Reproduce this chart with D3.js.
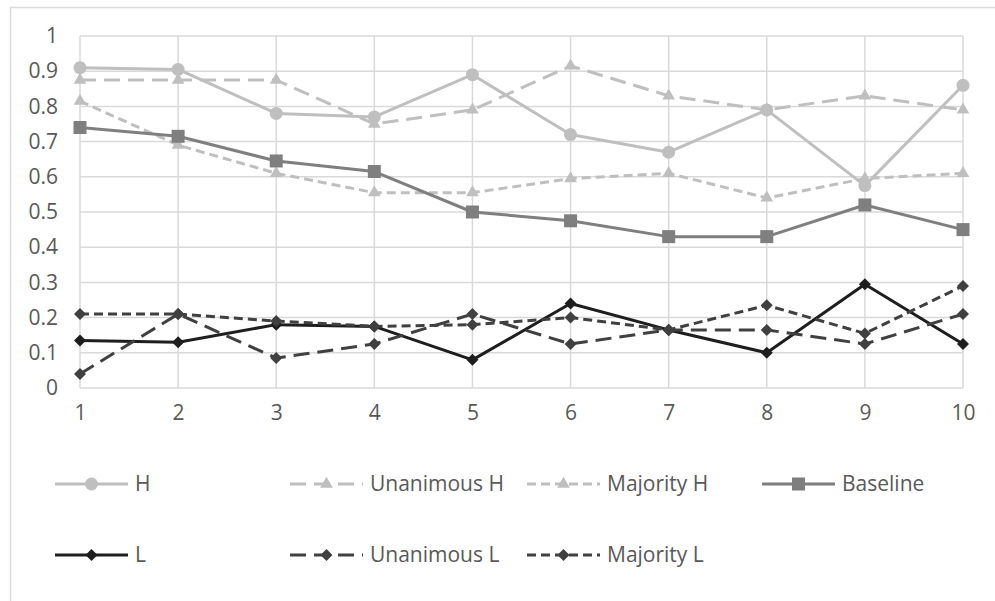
<!DOCTYPE html>
<html>
<head>
<meta charset="utf-8">
<script src="https://cdnjs.cloudflare.com/ajax/libs/d3/7.8.5/d3.min.js"></script>
<style>
  body { margin: 0; background: #fff; }
  svg text { font-family: "Open Sans", sans-serif; font-size: 21px; fill: #595959; }
</style>
</head>
<body>
<div id="chart"></div>
<script>
// values
var categories = [1, 2, 3, 4, 5, 6, 7, 8, 9, 10];
var yTicks = [0, 0.1, 0.2, 0.3, 0.4, 0.5, 0.6, 0.7, 0.8, 0.9, 1];

var hVals        = [0.91, 0.905, 0.78, 0.77, 0.89, 0.72, 0.67, 0.79, 0.575, 0.86];
var unanimousH   = [0.875, 0.875, 0.875, 0.75, 0.79, 0.915, 0.83, 0.79, 0.83, 0.79];
var majorityH    = [0.815, 0.69, 0.61, 0.555, 0.555, 0.595, 0.61, 0.54, 0.595, 0.61];
var baselineVals = [0.74, 0.715, 0.645, 0.615, 0.50, 0.475, 0.43, 0.43, 0.52, 0.45];
var lVals        = [0.135, 0.13, 0.18, 0.175, 0.08, 0.24, 0.165, 0.1, 0.295, 0.125];
var unanimousL   = [0.04, 0.21, 0.085, 0.125, 0.21, 0.125, 0.165, 0.165, 0.125, 0.21];
var majorityL    = [0.21, 0.21, 0.19, 0.175, 0.18, 0.2, 0.165, 0.235, 0.155, 0.29];

var seriesNames = ["H", "Unanimous H", "Majority H", "Baseline", "L", "Unanimous L", "Majority L"];

var width = 995, height = 601;
var plotLeft = 80, plotRight = 963, plotTop = 36, plotBottom = 388;

var svg = d3.select("#chart").append("svg")
    .attr("width", width)
    .attr("height", height);

// outer frame (runs off the right and bottom edge)
svg.append("path")
    .attr("d", "M10.5," + height + "V7.5H" + width)
    .style("fill", "none")
    .style("stroke", "#d9d9d9")
    .style("stroke-width", 1.5);

var x = d3.scalePoint().domain(categories).range([plotLeft, plotRight]);
var y = d3.scaleLinear().domain([0, 1]).range([plotBottom, plotTop]);

// gridlines
var grid = svg.append("g");
grid.selectAll("line.h").data(yTicks).enter().append("line")
    .attr("x1", plotLeft).attr("x2", plotRight)
    .attr("y1", function (d) { return y(d); })
    .attr("y2", function (d) { return y(d); })
    .style("stroke", "#d9d9d9").style("stroke-width", 1.5);
grid.selectAll("line.v").data(categories).enter().append("line")
    .attr("y1", plotTop).attr("y2", plotBottom)
    .attr("x1", function (d) { return x(d); })
    .attr("x2", function (d) { return x(d); })
    .style("stroke", "#d9d9d9").style("stroke-width", 1.5);

// axes labels
var yAxis = d3.axisLeft(y).tickValues(yTicks).tickSize(0).tickPadding(22)
    .tickFormat(function (d) { return String(+d.toFixed(1)); });
svg.append("g").attr("transform", "translate(" + plotLeft + ",0)").call(yAxis)
    .call(function (g) { g.select(".domain").remove(); g.selectAll("text").attr("font-size", null).attr("font-family", null); });
svg.selectAll("g").attr("font-size", null).attr("font-family", null);

var xAxis = d3.axisBottom(x).tickSize(0).tickPadding(17);
svg.append("g").attr("transform", "translate(0," + plotBottom + ")").call(xAxis)
    .call(function (g) { g.select(".domain").remove(); })
    .attr("font-size", null).attr("font-family", null);

var circle = d3.symbol().type(d3.symbolCircle).size(133);
var triangle = d3.symbol().type(d3.symbolTriangle).size(70);
var square = d3.symbol().type(d3.symbolSquare).size(169);
var diamond = d3.symbol().type(d3.symbolSquare).size(72);

var series = [
    { name: seriesNames[0], values: hVals, color: "#bfbfbf", dash: null, marker: circle, rot: 0 },
    { name: seriesNames[1], values: unanimousH, color: "#bfbfbf", dash: "16,8", marker: triangle, rot: 0 },
    { name: seriesNames[2], values: majorityH, color: "#bfbfbf", dash: "9,5", marker: triangle, rot: 0 },
    { name: seriesNames[3], values: baselineVals, color: "#7f7f7f", dash: null, marker: square, rot: 0 },
    { name: seriesNames[4], values: lVals, color: "#1e1e1e", dash: null, marker: diamond, rot: 45 },
    { name: seriesNames[5], values: unanimousL, color: "#404040", dash: "16,8", marker: diamond, rot: 45 },
    { name: seriesNames[6], values: majorityL, color: "#404040", dash: "9,5", marker: diamond, rot: 45 }
];

var line = d3.line()
    .x(function (d, i) { return x(categories[i]); })
    .y(function (d) { return y(d); });

series.forEach(function (s) {
    var g = svg.append("g");
    g.append("path")
        .attr("d", line(s.values))
        .style("fill", "none")
        .style("stroke", s.color)
        .style("stroke-width", 3)
        .style("stroke-linejoin", "round")
        .style("stroke-dasharray", s.dash);
    g.selectAll("path.m").data(s.values).enter().append("path")
        .attr("d", s.marker)
        .attr("transform", function (d, i) {
            return "translate(" + x(categories[i]) + "," + y(d) + ") rotate(" + s.rot + ")";
        })
        .style("fill", s.color);
});

// legend
var legendX = [55, 290, 527, 762];
var legendY = [484, 555];
var legend = svg.append("g");
series.forEach(function (s, i) {
    var lx = legendX[i % 4], ly = legendY[Math.floor(i / 4)];
    var g = legend.append("g").attr("transform", "translate(" + lx + "," + ly + ")");
    g.append("line")
        .attr("x1", 0).attr("x2", 73).attr("y1", 0).attr("y2", 0)
        .style("stroke", s.color)
        .style("stroke-width", 3)
        .style("stroke-dasharray", s.dash);
    g.append("path")
        .attr("d", s.marker)
        .attr("transform", "translate(36.5,0) rotate(" + s.rot + ")")
        .style("fill", s.color);
    g.append("text")
        .attr("x", 80)
        .attr("y", 0)
        .attr("dy", "0.35em")
        .text(s.name);
});
</script>
</body>
</html>
